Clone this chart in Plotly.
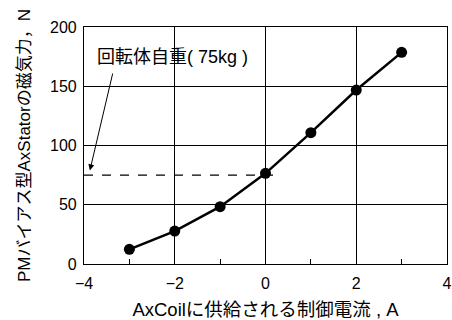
import plotly.graph_objects as go

current = [-3, -2, -1, 0, 1, 2, 3]
force = [12.4, 27.8, 48.4, 76.5, 110.8, 146.8, 178.6]
selfweight_x = [-4, 0.3]
selfweight_y = [75, 75]
xticks = [-4, -2, 0, 2, 4]
yticks = [0, 50, 100, 150, 200]

font = "Liberation Sans, Arial, Noto Sans CJK JP, sans-serif"

fig = go.Figure()
fig.add_trace(go.Scatter(x=selfweight_x, y=selfweight_y, mode="lines",
                         line=dict(color="black", width=1.2, dash="dash"),
                         showlegend=False, hoverinfo="skip"))
fig.add_trace(go.Scatter(x=current, y=force, mode="lines+markers",
                         line=dict(color="black", width=2.5),
                         marker=dict(color="black", size=11),
                         showlegend=False))

fig.add_annotation(x=-3.87, y=79, ax=-3.36, ay=162, xref="x", yref="y",
                   axref="x", ayref="y", text="", showarrow=True,
                   arrowhead=2, arrowsize=1.2, arrowwidth=1, arrowcolor="black")
fig.add_annotation(x=-3.75, y=174.5, xref="x", yref="y", text="回転体自重( 75kg )",
                   showarrow=False, xanchor="left",
                   font=dict(size=18, color="black", family=font))

axis_common = dict(showline=True, linecolor="black", linewidth=1.2, mirror=True,
                   showgrid=True, gridcolor="black", gridwidth=1, zeroline=False,
                   automargin=False,
                   ticks="", tickfont=dict(size=16, color="black", family=font))

fig.update_xaxes(range=[-4, 4], tickvals=xticks, ticklabelstandoff=5,
                 title=dict(text="AxCoilに供給される制御電流 , A", font=dict(size=18.5, color="black", family=font), standoff=14),
                 minor=dict(tickvals=[-3, -1, 1, 3], ticks="inside", ticklen=5, tickcolor="black", showgrid=False),
                 **axis_common)
fig.update_yaxes(range=[0, 200], tickvals=yticks, ticklabelstandoff=3,
                 title=dict(text="PMバイアス型AxStatorの磁気力，N", font=dict(size=17, color="black", family=font), standoff=15),
                 **axis_common)

fig.update_layout(width=452, height=320, margin=dict(l=84, r=5, t=27, b=56),
                  plot_bgcolor="white", paper_bgcolor="white",
                  font=dict(family=font, color="black"))

fig.write_html("out.html", config={"displayModeBar": False},
               post_script="document.body.style.margin='0';document.body.style.overflow='hidden';")
